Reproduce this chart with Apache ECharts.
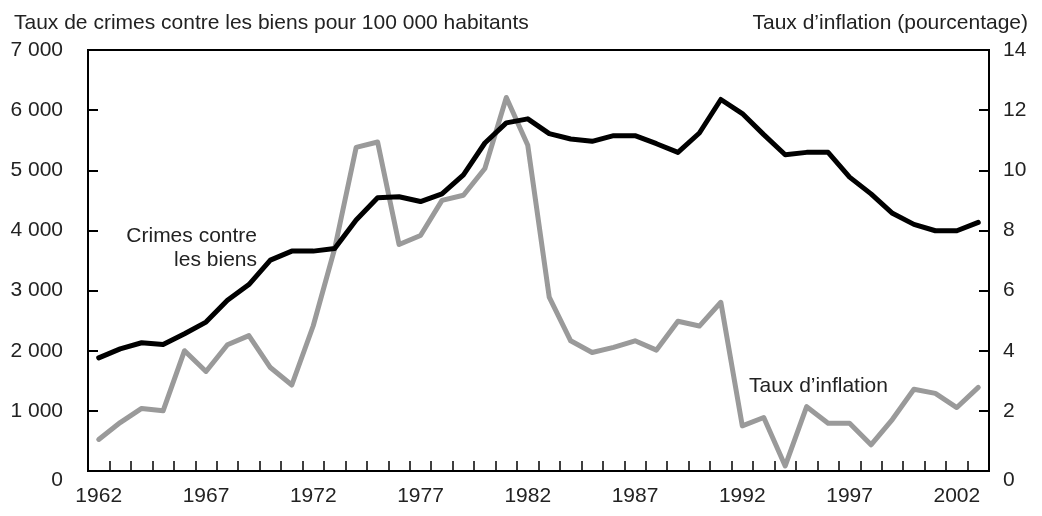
<!DOCTYPE html>
<html>
<head>
<meta charset="utf-8">
<script src="https://cdn.jsdelivr.net/npm/echarts@6/dist/echarts.min.js"></script>
<style>
html,body{margin:0;padding:0;background:#fff;}
#chart{width:1042px;height:516px;}
</style>
</head>
<body>
<div id="chart"></div>
<script>
const years = ['1962','1963','1964','1965','1966','1967','1968','1969','1970','1971',
  '1972','1973','1974','1975','1976','1977','1978','1979','1980','1981',
  '1982','1983','1984','1985','1986','1987','1988','1989','1990','1991',
  '1992','1993','1994','1995','1996','1997','1998','1999','2000','2001',
  '2002','2003'];
const crimeRate = [1881,2031,2132,2103,2282,2476,2838,3100,3506,3656,
  3656,3700,4174,4545,4560,4480,4608,4925,5454,5788,
  5855,5609,5520,5481,5576,5576,5442,5298,5620,6177,
  5943,5593,5259,5298,5298,4886,4608,4285,4101,3995,
  3995,4135];
const inflation = [1.05,1.61,2.08,2.0,4.0,3.31,4.2,4.5,3.44,2.86,
  4.83,7.4,10.76,10.94,7.53,7.83,9.0,9.17,10.06,12.42,
  10.83,5.78,4.33,3.94,4.11,4.33,4.02,4.98,4.82,5.61,
  1.5,1.78,0.17,2.14,1.59,1.59,0.87,1.72,2.72,2.58,
  2.11,2.78];
const leftTitle = 'Taux de crimes contre les biens pour 100 000 habitants';
const rightTitle = 'Taux d\u2019inflation (pourcentage)';
const crimeLabel = ['Crimes contre', 'les biens'];
const inflLabel = 'Taux d\u2019inflation';

const FONT = 'Liberation Sans, Arial, sans-serif';
const FS = 21;
const TXT = '#222';

function fmtThousands(v){
  return String(v).replace(/\B(?=(\d{3})+(?!\d))/g, ' ');
}

const chart = echarts.init(document.getElementById('chart'));
chart.setOption({
  animation: false,
  backgroundColor: '#fff',
  textStyle: {fontFamily: FONT},
  title: [
    {text: leftTitle, left: 9, top: 8, textStyle: {fontFamily: FONT, fontSize: FS, fontWeight: 'normal', color: TXT}},
    {text: rightTitle, right: 9, top: 8, textStyle: {fontFamily: FONT, fontSize: FS, fontWeight: 'normal', color: TXT}}
  ],
  grid: {left: 88, right: 53, top: 50, bottom: 45, show: true, borderColor: '#000', borderWidth: 2, backgroundColor: 'transparent'},
  xAxis: {
    type: 'category',
    data: years,
    boundaryGap: true,
    axisLine: {show: false},
    axisTick: {show: true, inside: true, length: 10, interval: 0, lineStyle: {color: '#000', width: 1.5}},
    axisLabel: {interval: 4, margin: 15, fontFamily: FONT, fontSize: FS, color: TXT}
  },
  yAxis: [
    {
      type: 'value', min: 0, max: 7000, interval: 1000, position: 'left',
      splitLine: {show: false},
      axisLine: {show: false},
      axisTick: {show: true, inside: true, length: 10, lineStyle: {color: '#000', width: 2}},
      axisLabel: {
        margin: 25, fontFamily: FONT, fontSize: FS, color: TXT,
        formatter: function(v){ return v === 0 ? '{z|0}' : fmtThousands(v); },
        rich: {z: {fontFamily: FONT, fontSize: FS, color: TXT, padding: [18,0,0,0]}}
      }
    },
    {
      type: 'value', min: 0, max: 14, interval: 2, position: 'right',
      splitLine: {show: false},
      axisLine: {show: false},
      axisTick: {show: true, inside: true, length: 10, lineStyle: {color: '#000', width: 2}},
      axisLabel: {
        margin: 14, fontFamily: FONT, fontSize: FS, color: TXT,
        formatter: function(v){ return v === 0 ? '{z|0}' : String(v); },
        rich: {z: {fontFamily: FONT, fontSize: FS, color: TXT, padding: [18,0,0,0]}}
      }
    }
  ],
  series: [
    {
      name: 'Taux d\u2019inflation', type: 'line', yAxisIndex: 1, data: inflation,
      showSymbol: false, symbol: 'none',
      lineStyle: {color: '#9a9a9a', width: 5, join: 'round', cap: 'round'},
      z: 2
    },
    {
      name: 'Crimes contre les biens', type: 'line', yAxisIndex: 0, data: crimeRate,
      showSymbol: false, symbol: 'none',
      lineStyle: {color: '#000', width: 5, join: 'round', cap: 'round'},
      z: 3
    }
  ],
  graphic: [
    {type: 'text', right: 1042 - 257, top: 226, style: {text: crimeLabel[0], font: FS + 'px ' + FONT, fill: TXT, textAlign: 'right'}},
    {type: 'text', right: 1042 - 257, top: 250, style: {text: crimeLabel[1], font: FS + 'px ' + FONT, fill: TXT, textAlign: 'right'}},
    {type: 'text', left: 749, top: 376, style: {text: inflLabel, font: FS + 'px ' + FONT, fill: TXT}}
  ]
});
</script>
</body>
</html>
